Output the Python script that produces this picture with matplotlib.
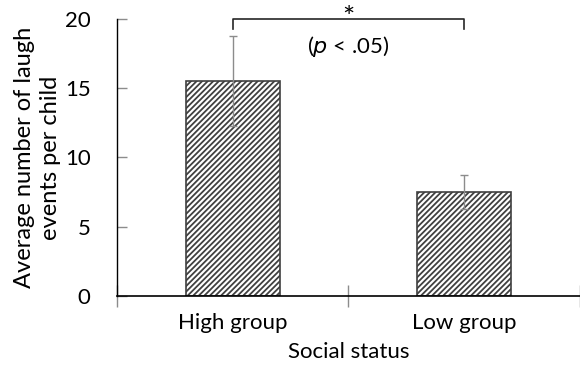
import matplotlib
matplotlib.use("Agg")
import matplotlib.pyplot as plt

plt.rcParams['font.family'] = ['Lato', 'DejaVu Sans']
plt.rcParams['hatch.color'] = '#383838'
plt.rcParams['hatch.linewidth'] = 1.3

categories = ["High group", "Low group"]
means = [15.5, 7.5]
errors = [3.25, 1.25]
y_ticks = [0, 5, 10, 15, 20]

fig = plt.figure(figsize=(5.8, 3.71), dpi=100)
ax = fig.add_axes([0.2017, 0.2022, 0.7983, 0.7466])

x = list(range(len(categories)))
ax.bar(x, means, width=0.405, color='white', edgecolor='#404040',
       linewidth=1.2, hatch='/' * 6, zorder=2)
ax.errorbar(x, means, yerr=errors, fmt='none', ecolor='#8c8c8c',
            elinewidth=1.0, capsize=3, capthick=1.0, zorder=3)

ax.set_xlim(-0.5, 1.5)
ax.set_ylim(0, 20)
ax.set_yticks(y_ticks)
ax.set_xticks(x)
ax.set_xticklabels(categories, fontsize=16)
ax.set_xticks([-0.5, 0.5, 1.5], minor=True)
ax.tick_params(axis='x', which='major', length=0, pad=12)
ax.tick_params(axis='x', which='minor', direction='inout', length=16,
               color='#8c8c8c', width=1.0)
ax.tick_params(axis='y', direction='in', length=7, color='#8c8c8c',
               width=1.0, labelsize=16, pad=19)

for side in ('top', 'right'):
    ax.spines[side].set_visible(False)
ax.spines['left'].set_color('black')
ax.spines['bottom'].set_color('black')
ax.spines['left'].set_linewidth(1.0)
ax.spines['bottom'].set_linewidth(1.2)

ax.set_xlabel("Social status", fontsize=16, labelpad=7)
ax.set_ylabel("Average number of laugh\nevents per child", fontsize=17,
              labelpad=3, linespacing=1.25)

# significance bracket between the two groups
bracket_y = 20.0
ax.plot([x[0], x[0], x[1], x[1]],
        [bracket_y - 0.7, bracket_y, bracket_y, bracket_y - 0.7],
        color='#262626', linewidth=1.2, clip_on=False, zorder=4)
ax.text((x[0] + x[1]) / 2, 19.45, "*", ha='center', va='baseline',
        fontsize=21)
ax.text((x[0] + x[1]) / 2, 18.0, r"($\it{p}$ < .05)", ha='center',
        va='center', fontsize=16)

fig.savefig("out.png", dpi=100)
